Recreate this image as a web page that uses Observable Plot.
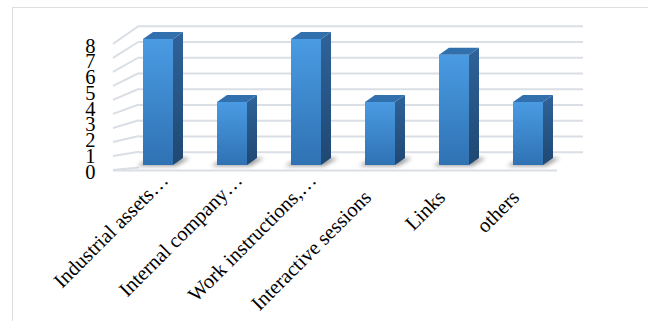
<!DOCTYPE html>
<html><head><meta charset="utf-8">
<script src="https://cdn.jsdelivr.net/npm/d3@7"></script>
<script src="https://cdn.jsdelivr.net/npm/@observablehq/plot@0.6"></script>
<style>
body{margin:0;background:#fff;}
#frame{position:absolute;left:12px;top:7px;width:640px;height:340px;border:1.5px solid #dedede;box-sizing:border-box;}
#chart{position:absolute;left:0;top:0;}
#chart svg, #chart svg text{font-family:"Liberation Serif","Times New Roman","DejaVu Serif",serif !important;}
</style></head><body>
<div id="frame"></div><div id="chart"></div>
<script>
const categories = ["Industrial assets…", "Internal company…", "Work instructions,…", "Interactive sessions", "Links", "others"];
const values = [8, 4, 8, 4, 7, 4];
const yTicks = [0, 1, 2, 3, 4, 5, 6, 7, 8];
const gridLevels = [1, 2, 3, 4, 5, 6, 7, 8, 9];
const wallLevels = [0, 1, 2, 3, 4, 5, 6, 7, 8, 9];

const data = categories.map((c, i) => ({category: c, value: values[i]}));

const DX = 10, DY = -7;          // bar depth offset
const GRID = "#dadee5";

function walls(index, scales, vals, dims) {
  const {x, y} = scales;
  const x0 = dims.marginLeft;
  const g = d3.create("svg:g");
  const defs = g.append("defs");
  const gf = defs.append("linearGradient").attr("id", "gFront").attr("x1", 0).attr("y1", 0).attr("x2", 0).attr("y2", 1);
  gf.append("stop").attr("offset", "0%").attr("stop-color", "#4a9be3");
  gf.append("stop").attr("offset", "100%").attr("stop-color", "#2f72b3");
  const gs = defs.append("linearGradient").attr("id", "gSide").attr("x1", 0).attr("y1", 0).attr("x2", 0).attr("y2", 1);
  gs.append("stop").attr("offset", "0%").attr("stop-color", "#2f639a");
  gs.append("stop").attr("offset", "100%").attr("stop-color", "#1f4872");
  const f = defs.append("filter").attr("id", "blur").attr("x", "-50%").attr("y", "-50%").attr("width", "200%").attr("height", "200%");
  f.append("feGaussianBlur").attr("stdDeviation", 2);
  const base = y(0);
  for (const v of wallLevels) {
    g.append("line")
      .attr("x1", x0 - 8).attr("y1", base + 5 + (y(v) - base) * 0.89)
      .attr("x2", x0 + 18).attr("y2", y(v) + 2.5)
      .attr("stroke", GRID).attr("stroke-width", 2);
  }
  const bw = x.bandwidth ? x.bandwidth() : 29.6;
  for (const d of data) {
    const xl = x(d.category), xr = xl + bw;
    g.append("polygon")
      .attr("points", [[xl - 6, base + 1], [xr + 3, base + 1], [xr + DX + 7, base + DY], [xl + DX - 2, base + DY]].join(" "))
      .attr("fill", "#000").attr("opacity", 0.4).attr("filter", "url(#blur)");
  }
  return g.node();
}

function barSides(index, scales, vals, dims) {
  const {x, y} = scales;
  const bw = x.bandwidth ? x.bandwidth() : 29.6;
  const g = d3.create("svg:g");
  const base = y(0);
  for (const d of data) {
    const xl = x(d.category), xr = xl + bw, yt = y(d.value);
    g.append("polygon")
      .attr("points", [[xr, yt], [xr + DX, yt + DY], [xr + DX, base + DY], [xr, base]].join(" "))
      .attr("fill", "url(#gSide)");
    g.append("polygon")
      .attr("points", [[xl, yt], [xl + DX, yt + DY], [xr + DX, yt + DY], [xr, yt]].join(" "))
      .attr("fill", "#3270ad");
  }
  return g.node();
}

const font = "'Liberation Serif', 'Times New Roman', serif";
const truncated = data.filter(d => d.category.endsWith("…"));
const full = data.filter(d => !d.category.endsWith("…"));

const chart = Plot.plot({
  width: 648,
  height: 321,
  marginLeft: 121,
  marginRight: 83,
  marginTop: 39,
  marginBottom: 156,
  style: {fontFamily: font, fontSize: "20.5px", background: "transparent", overflow: "visible"},
  x: {domain: categories, paddingInner: 0.6, paddingOuter: 0.3, axis: null},
  y: {domain: [0, 8], axis: null, label: null},
  marks: [
    Plot.ruleY(gridLevels, {dx: 18, dy: 2.5, stroke: GRID, strokeWidth: 2}),
    walls,
    Plot.ruleY([0], {dx: -8, dy: 5, stroke: GRID, strokeWidth: 2}),
    Plot.barY(data, {x: "category", y: "value", fill: "url(#gFront)"}),
    barSides,
    Plot.axisY(yTicks, {tickSize: 0, tickPadding: 26, dy: 6.5, fontSize: 20.5, label: null, fill: "#000"}),
    Plot.text(truncated, {x: "category", text: "category", frameAnchor: "bottom", rotate: -45, textAnchor: "end", lineAnchor: "bottom", dx: 11, dy: 16, fontSize: 20.5, fill: "#000"}),
    Plot.text(full, {x: "category", text: "category", frameAnchor: "bottom", rotate: -45, textAnchor: "end", lineAnchor: "bottom", dx: -8, dy: 33, fontSize: 20.5, fill: "#000"})
  ]
});
document.getElementById("chart").appendChild(chart);
</script>
</body></html>
